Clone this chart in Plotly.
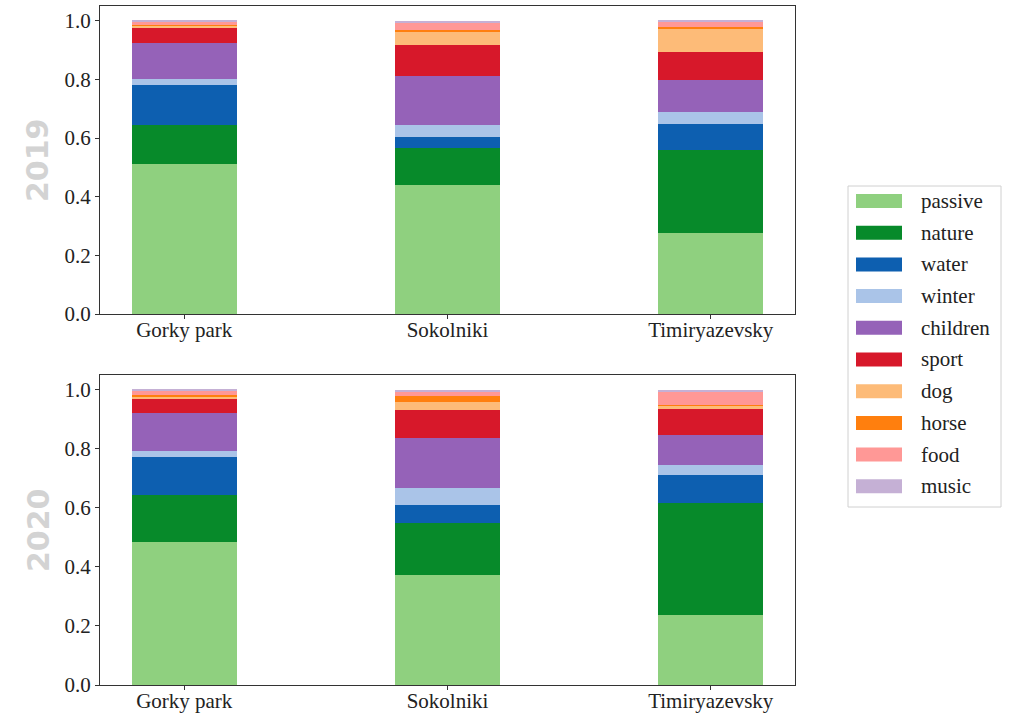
import plotly.graph_objects as go

parks = ["Gorky park", "Sokolniki", "Timiryazevsky"]
categories = ["passive", "nature", "water", "winter", "children", "sport", "dog", "horse", "food", "music"]
colors = ["#8fd07f", "#078a2a", "#0d5fb0", "#aac4e8", "#9562b8", "#d7182a", "#fdbb78", "#ff7f0e", "#ff9896", "#c5b0d5"]

values_2019 = {
    "passive":  [0.513, 0.440, 0.277],
    "nature":   [0.132, 0.126, 0.283],
    "water":    [0.137, 0.039, 0.088],
    "winter":   [0.019, 0.040, 0.042],
    "children": [0.123, 0.165, 0.109],
    "sport":    [0.051, 0.108, 0.093],
    "dog":      [0.008, 0.045, 0.080],
    "horse":    [0.002, 0.005, 0.005],
    "food":     [0.012, 0.025, 0.020],
    "music":    [0.003, 0.007, 0.003],
}
values_2020 = {
    "passive":  [0.485, 0.373, 0.237],
    "nature":   [0.159, 0.175, 0.379],
    "water":    [0.128, 0.062, 0.096],
    "winter":   [0.019, 0.057, 0.034],
    "children": [0.130, 0.169, 0.101],
    "sport":    [0.047, 0.094, 0.088],
    "dog":      [0.010, 0.030, 0.012],
    "horse":    [0.004, 0.020, 0.002],
    "food":     [0.015, 0.015, 0.045],
    "music":    [0.003, 0.005, 0.006],
}
years = ["2019", "2020"]

W, H = 1009, 714
ML, MR, MT, MB = 100, 214, 6, 29
PH = H - MT - MB
PW = W - ML - MR

def py(y):  # pixel y -> paper
    return (H - MB - y) / PH

def px(x):
    return (x - ML) / PW

fig = go.Figure()
for yi, (year, vals) in enumerate(zip(years, [values_2019, values_2020])):
    xa = "x" if yi == 0 else "x2"
    ya = "y" if yi == 0 else "y2"
    for cat, col in zip(categories, colors):
        fig.add_trace(go.Bar(
            x=list(range(len(parks))), y=vals[cat], name=cat,
            marker=dict(color=col, line=dict(width=0)),
            width=0.4, xaxis=xa, yaxis=ya, showlegend=False,
        ))

serif = "Liberation Serif, Times New Roman, serif"
axis_common = dict(
    showline=True, linecolor="#333333", linewidth=1.2, mirror=True, automargin=False,
    ticks="outside", ticklen=4, tickcolor="#333333", showgrid=False, zeroline=False,
)
xfont = dict(family=serif, size=21, color="#222222")
yfont = dict(family=serif, size=21, color="#222222")
fig.update_layout(
    width=W, height=H, barmode="stack",
    margin=dict(l=ML, r=MR, t=MT, b=MB),
    plot_bgcolor="white", paper_bgcolor="white",
    xaxis=dict(domain=[0, 1], range=[-0.32, 2.32], tickmode="array",
               tickvals=[0, 1, 2], ticktext=parks, anchor="y", tickfont=xfont,
               ticklabelstandoff=-7, **axis_common),
    yaxis=dict(domain=[py(314), py(6)], range=[0, 1.05], tickvals=[0, 0.2, 0.4, 0.6, 0.8, 1.0],
               tickformat=".1f", anchor="x", tickfont=yfont, **axis_common),
    xaxis2=dict(domain=[0, 1], range=[-0.32, 2.32], tickmode="array",
                tickvals=[0, 1, 2], ticktext=parks, anchor="y2", tickfont=xfont,
                ticklabelstandoff=-7, **axis_common),
    yaxis2=dict(domain=[0, py(375)], range=[0, 1.05], tickvals=[0, 0.2, 0.4, 0.6, 0.8, 1.0],
                tickformat=".1f", anchor="x2", tickfont=yfont, **axis_common),
    bargap=0,
)

# year titles
for year, yc in zip(years, [160, 530]):
    fig.add_annotation(text="<b>%s</b>" % year, xref="paper", yref="paper",
                       x=px(38), y=py(yc), showarrow=False, textangle=-90,
                       font=dict(family="DejaVu Sans", size=30, color="#d3d3d3"),
                       xanchor="center", yanchor="middle")

# legend (manual, matplotlib-style patches)
fig.add_shape(type="rect", xref="paper", yref="paper",
              x0=px(848), x1=px(1001), y0=py(507), y1=py(186),
              line=dict(color="#d0d0d0", width=1), fillcolor="white", layer="below")
for i, (cat, col) in enumerate(zip(categories, colors)):
    yc = 201 + i * 31.7
    fig.add_shape(type="rect", xref="paper", yref="paper",
                  x0=px(856), x1=px(902), y0=py(yc + 7), y1=py(yc - 7),
                  line=dict(width=0), fillcolor=col)
    fig.add_annotation(text=cat, xref="paper", yref="paper", x=px(919), y=py(yc),
                       showarrow=False, xanchor="left", yanchor="middle",
                       font=dict(family=serif, size=21, color="#222222"))

fig.write_html("out.html")
